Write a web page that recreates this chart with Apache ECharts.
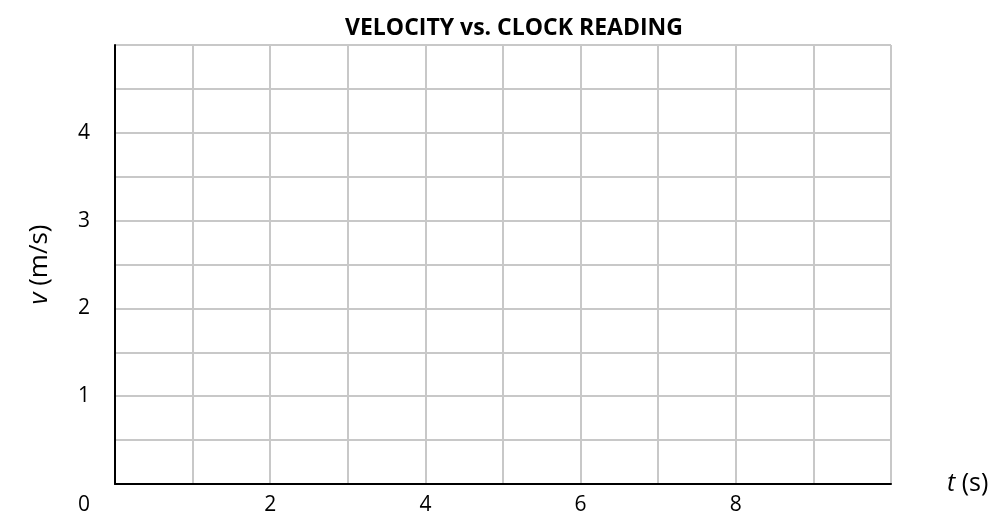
<!DOCTYPE html>
<html>
<head>
<meta charset="utf-8">
<script src="https://cdn.jsdelivr.net/npm/echarts@6/dist/echarts.min.js"></script>
<style>
html,body{margin:0;padding:0;background:#fff}
#chart{width:994px;height:516px}
</style>
</head>
<body>
<div id="chart"></div>
<script>

// blank graph paper: axis ranges and which ticks get a label

const xRange = [0, 10]
const xStep = 1
const xLabelled = [2, 4, 6, 8]

const yRange = [0, 5]
const yStep = 0.5
const yLabelled = [1, 2, 3, 4]

const velocity = []   // no points plotted

const font = "'Open Sans', 'Noto Sans', sans-serif"

const chart = echarts.init(document.getElementById("chart"))

chart.setOption({

title:{
text:"VELOCITY vs. CLOCK READING",
left:340,
top:12,
textStyle:{fontFamily:font,fontSize:23,fontWeight:"bold",color:"#000"}
},

grid:{left:115,right:103,top:45,bottom:30},

xAxis:{
type:"value",
min:xRange[0],
max:xRange[1],
interval:xStep,
name:"{i|t} (s)",
nameLocation:"end",
nameGap:56,
nameTextStyle:{
fontFamily:font,fontSize:25,color:"#000",
rich:{i:{fontFamily:font,fontSize:25,fontStyle:"italic",color:"#000"}}
},
axisLine:{lineStyle:{color:"#000",width:2}},
axisTick:{show:false},
axisLabel:{
fontFamily:font,fontSize:21,color:"#000",margin:11,
formatter:v => xLabelled.includes(v) ? String(v) : ""
},
splitLine:{show:true,lineStyle:{color:"#c8c8c8",width:2}}
},

yAxis:{
type:"value",
min:yRange[0],
max:yRange[1],
interval:yStep,
name:"{i|v} (m/s)",
nameLocation:"middle",
nameRotate:90,
nameGap:62,
nameTextStyle:{
fontFamily:font,fontSize:26,color:"#000",
rich:{i:{fontFamily:font,fontSize:26,fontStyle:"italic",color:"#000"}}
},
axisLine:{show:true,lineStyle:{color:"#000",width:2}},
axisTick:{show:false},
axisLabel:{
fontFamily:font,fontSize:21,color:"#000",margin:25,
formatter:v => yLabelled.includes(v) ? String(v) : ""
},
splitLine:{show:true,lineStyle:{color:"#c8c8c8",width:2}}
},

graphic:[{
type:"text",
left:78,
top:495,
style:{text:"0",fontFamily:font,fontSize:21,fill:"#000"}
}],

series:[{
type:"line",
data:velocity
}]

})

</script>
</body>
</html>
